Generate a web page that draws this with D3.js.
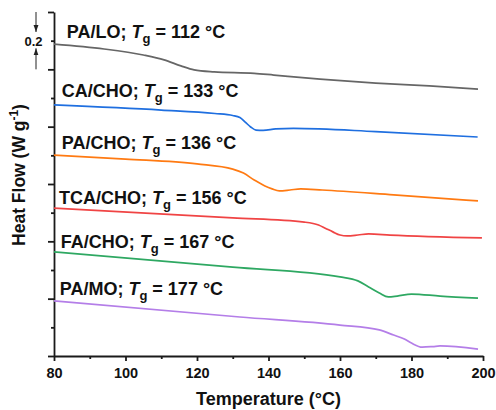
<!DOCTYPE html>
<html>
<head>
<meta charset="utf-8">
<script src="https://cdn.jsdelivr.net/npm/d3@7"></script>
<style>
  body { margin: 0; background: #fff; }
  svg { display: block; font-family: "Liberation Sans", Arial, sans-serif; }
</style>
</head>
<body>
<div id="chart"></div>
<script>
// DSC traces, heat flow offset per sample (W g-1, arbitrary offsets)
const SAMPLES = ["PA/LO", "CA/CHO", "PA/CHO", "TCA/CHO", "FA/CHO", "PA/MO"];
const TG = [112, 133, 136, 156, 167, 177];
const COLORS = ["#666666", "#1f6fe0", "#ff7a12", "#f04444", "#2ea862", "#b47ee8"];

const T_PA_LO = [80, 94, 105, 110.8, 115.5, 119.2, 124.8, 136, 141.5, 154.4, 170, 185, 198.6];
const HF_PA_LO = [1.088, 1.071, 1.050, 1.033, 1.012, 0.998, 0.991, 0.986, 0.980, 0.966, 0.952, 0.942, 0.931];

const T_CA_CHO = [80, 110, 125, 130, 132, 133.5, 135, 136.5, 138.5, 142, 147, 170, 198.5];
const HF_CA_CHO = [0.876, 0.858, 0.846, 0.839, 0.832, 0.816, 0.799, 0.788, 0.787, 0.792, 0.794, 0.783, 0.764];

const T_PA_CHO = [80, 100, 120, 130, 133, 136, 139, 141, 143, 146, 149, 155, 175, 198.6];
const HF_PA_CHO = [0.701, 0.687, 0.670, 0.652, 0.638, 0.614, 0.593, 0.583, 0.576, 0.579, 0.583, 0.579, 0.562, 0.541];

const T_TCA_CHO = [80, 130, 150, 154, 156, 158, 160, 162, 165, 168, 174, 199.7];
const HF_TCA_CHO = [0.516, 0.482, 0.467, 0.457, 0.445, 0.433, 0.422, 0.419, 0.422, 0.426, 0.422, 0.412];

const T_FA_CHO = [80, 130, 160, 165, 168, 171, 173.5, 176, 180, 188, 198.6];
const HF_FA_CHO = [0.363, 0.310, 0.276, 0.262, 0.241, 0.220, 0.206, 0.209, 0.216, 0.209, 0.202];

const T_PA_MO = [80, 132, 160, 171, 175, 178, 180, 183, 186, 188, 198.6];
const HF_PA_MO = [0.192, 0.136, 0.108, 0.091, 0.073, 0.059, 0.045, 0.031, 0.033, 0.035, 0.024];

const SERIES_T = [T_PA_LO, T_CA_CHO, T_PA_CHO, T_TCA_CHO, T_FA_CHO, T_PA_MO];
const SERIES_HF = [HF_PA_LO, HF_CA_CHO, HF_PA_CHO, HF_TCA_CHO, HF_FA_CHO, HF_PA_MO];

// label anchor (temperature, heat flow) for each trace's text
const LABEL_T = [83.6, 82.2, 82.2, 81.4, 81.9, 81.6];
const LABEL_HF = [1.109, 0.904, 0.722, 0.530, 0.377, 0.213];

const X_TICKS = [80, 100, 120, 140, 160, 180, 200];
const X_MINOR = [90, 110, 130, 150, 170, 190];
const Y_MAJOR = [0, 0.2, 0.4, 0.6, 0.8, 1.0, 1.2];
const Y_MINOR = [0.1, 0.3, 0.5, 0.7, 0.9, 1.1];
const SCALE_BAR = 0.2;

const W = 496, H = 410;
const margin = { left: 54, right: 13, top: 12, bottom: 54 };

const svg = d3.select("#chart").append("svg")
  .attr("width", W).attr("height", H);

const x = d3.scaleLinear().domain([80, 200]).range([margin.left, W - margin.right]);
const y = d3.scaleLinear().domain([0, 1.2]).range([H - margin.bottom, margin.top]);

const axisColor = "#1a1a1a";

function styleAxis(g) {
  g.selectAll("path.domain").attr("stroke", axisColor).attr("stroke-width", 1.8);
  g.selectAll(".tick line").attr("stroke", axisColor).attr("stroke-width", 1.8);
}

// x axis
const xMinor = svg.append("g")
  .attr("transform", `translate(0,${y(0)})`)
  .call(d3.axisBottom(x).tickValues(X_MINOR).tickSize(3).tickFormat(""));
xMinor.select("path.domain").remove();
styleAxis(xMinor);

const xAxis = svg.append("g")
  .attr("transform", `translate(0,${y(0)})`)
  .call(d3.axisBottom(x).tickValues(X_TICKS).tickSize(5).tickSizeOuter(0).tickPadding(7));
styleAxis(xAxis);
xAxis.selectAll(".tick text")
  .attr("font-size", 14.5).attr("font-weight", "bold").attr("fill", "#111")
  .attr("font-family", "Liberation Sans, Arial, sans-serif");

// y axis
const yMinor = svg.append("g")
  .attr("transform", `translate(${x(80)},0)`)
  .call(d3.axisLeft(y).tickValues(Y_MINOR).tickSize(3).tickFormat(""));
yMinor.select("path.domain").remove();
styleAxis(yMinor);

const yAxis = svg.append("g")
  .attr("transform", `translate(${x(80)},0)`)
  .call(d3.axisLeft(y).tickValues(Y_MAJOR).tickSize(6).tickSizeOuter(0).tickFormat(""));
styleAxis(yAxis);

// axis titles
svg.append("text")
  .attr("x", (x(80) + x(200)) / 2).attr("y", 405)
  .attr("text-anchor", "middle")
  .attr("font-size", 18).attr("font-weight", "bold").attr("fill", "#111")
  .text("Temperature (°C)");

const yTitle = svg.append("text")
  .attr("transform", `translate(25,175) rotate(-90)`)
  .attr("text-anchor", "middle")
  .attr("font-size", 17.5).attr("font-weight", "bold").attr("fill", "#111");
yTitle.append("tspan").text("Heat Flow (W g");
yTitle.append("tspan").attr("font-size", 12).attr("dy", -7).text("-1");
yTitle.append("tspan").attr("dy", 7).text(")");

// scale bar: 0.2 between two inward arrows
const barX = 36;
const yTop = y(1.2), yBot = y(1.2 - SCALE_BAR);
const defs = svg.append("defs");
defs.append("marker")
  .attr("id", "arrow")
  .attr("viewBox", "0 0 10 10")
  .attr("refX", 10).attr("refY", 5)
  .attr("markerWidth", 7).attr("markerHeight", 7)
  .attr("orient", "auto")
  .append("path").attr("d", "M0,1.5 L10,5 L0,8.5 Z").attr("fill", "#222");

svg.append("line")
  .attr("x1", barX).attr("x2", barX)
  .attr("y1", yTop).attr("y2", yTop + 20)
  .attr("stroke", "#222").attr("stroke-width", 1)
  .attr("marker-end", "url(#arrow)");
svg.append("line")
  .attr("x1", barX).attr("x2", barX)
  .attr("y1", yBot).attr("y2", yBot - 21)
  .attr("stroke", "#222").attr("stroke-width", 1)
  .attr("marker-end", "url(#arrow)");
svg.append("text")
  .attr("x", 33.5).attr("y", (yTop + yBot) / 2 + 5)
  .attr("text-anchor", "middle")
  .attr("font-size", 13).attr("font-weight", "bold").attr("fill", "#111")
  .text("0.2");

// traces
const line = d3.line()
  .x((d) => x(d[0]))
  .y((d) => y(d[1]))
  .curve(d3.curveMonotoneX);

SAMPLES.forEach((name, i) => {
  const pts = SERIES_T[i].map((t, j) => [t, SERIES_HF[i][j]]);
  svg.append("path")
    .datum(pts)
    .attr("fill", "none")
    .attr("stroke", COLORS[i])
    .attr("stroke-width", 1.7)
    .attr("stroke-linejoin", "round")
    .attr("d", line);

  const label = svg.append("text")
    .attr("x", x(LABEL_T[i])).attr("y", y(LABEL_HF[i]))
    .attr("font-size", 18).attr("font-weight", "bold").attr("fill", "#111");
  label.append("tspan").text(`${name}; `);
  label.append("tspan").attr("font-style", "italic").text("T");
  label.append("tspan").attr("font-size", 13).attr("dy", 5).text("g");
  label.append("tspan").attr("dy", -5).text(` = ${TG[i]} °C`);
});
</script>
</body>
</html>
